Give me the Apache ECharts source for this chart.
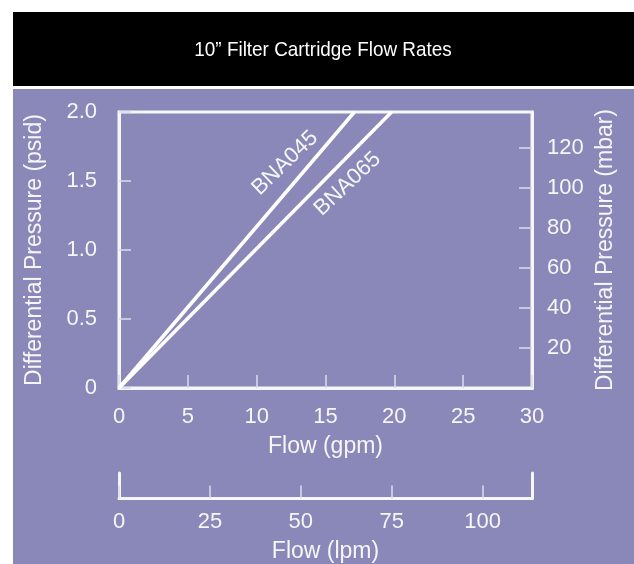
<!DOCTYPE html>
<html>
<head>
<meta charset="utf-8">
<script src="https://cdn.jsdelivr.net/npm/echarts@6/dist/echarts.min.js"></script>
<style>
html,body{margin:0;padding:0;background:#fff;}
#c{width:634px;height:564px;}
</style>
</head>
<body>
<div id="c"></div>
<script>
const titleText = "10\u201D Filter Cartridge Flow Rates";
const gpmTicks = [0, 5, 10, 15, 20, 25, 30];
const psidTicks = [0, 0.5, 1.0, 1.5, 2.0];
const mbarTicks = [20, 40, 60, 80, 100, 120];
const lpmTicks = [0, 25, 50, 75, 100];
const bna045 = [[0, 0], [17.1, 2.0]];
const bna065 = [[0, 0], [19.8, 2.0]];
const seriesNames = ["BNA045", "BNA065"];
const labelPos045 = [12.06, 1.63];
const labelPos065 = [16.6, 1.478];

const PSI_TO_MBAR = 68.9476;
const GPM_TO_LPM = 3.78541;

const FONT = "Liberation Sans, Arial, sans-serif";
const W = "#f6f6f6";
const TICK = "#dcdcec";

const chart = echarts.init(document.getElementById('c'));
const lbl = (extra) => Object.assign({color: W, fontSize: 22, fontFamily: FONT}, extra);

chart.setOption({
  animation: false,
  backgroundColor: '#ffffff',
  graphic: [
    {type: 'rect', z: -10, shape: {x: 13, y: 12, width: 621, height: 74}, style: {fill: '#000000'}},
    {type: 'rect', z: -10, shape: {x: 13, y: 89, width: 621, height: 475}, style: {fill: '#8988b8'}},
    {type: 'text', z: 10, x: 323, y: 50, scaleX: 0.9,
      style: {text: titleText, fill: '#ffffff', fontSize: 21, fontFamily: FONT, textAlign: 'center', textVerticalAlign: 'middle'}}
  ],
  grid: [
    {left: 119, top: 112, width: 413, height: 276, show: true, borderColor: W, borderWidth: 3, backgroundColor: 'transparent'},
    {left: 119, top: 473, width: 413, height: 27}
  ],
  xAxis: [
    {
      gridIndex: 0, type: 'value', min: gpmTicks[0], max: gpmTicks[gpmTicks.length - 1], interval: 5,
      axisLine: {lineStyle: {color: W, width: 3}},
      axisTick: {inside: true, length: 13, lineStyle: {color: TICK, width: 1.5}},
      splitLine: {show: false},
      axisLabel: lbl({margin: 18}),
      name: 'Flow (gpm)', nameLocation: 'middle', nameGap: 59,
      nameTextStyle: lbl({fontSize: 23, verticalAlign: 'middle'})
    },
    {
      gridIndex: 1, type: 'value', min: 0, max: gpmTicks[gpmTicks.length - 1] * GPM_TO_LPM, interval: 25,
      axisLine: {lineStyle: {color: W, width: 3}},
      axisTick: {inside: true, length: 13, lineStyle: {color: TICK, width: 1.5}},
      splitLine: {show: false},
      axisLabel: lbl({margin: 12, showMaxLabel: false, formatter: v => lpmTicks.includes(v) ? String(v) : ''}),
      name: 'Flow (lpm)', nameLocation: 'middle', nameGap: 53,
      nameTextStyle: lbl({fontSize: 23, verticalAlign: 'middle'})
    }
  ],
  yAxis: [
    {
      gridIndex: 0, type: 'value', min: 0, max: psidTicks[psidTicks.length - 1], interval: 0.5,
      axisLine: {lineStyle: {color: W, width: 3}},
      axisTick: {inside: true, length: 12, lineStyle: {color: TICK, width: 1.5}},
      splitLine: {show: false},
      axisLabel: lbl({margin: 22, formatter: v => v === 0 ? '0' : v.toFixed(1)}),
      name: 'Differential Pressure (psid)', nameLocation: 'middle', nameGap: 84, nameRotate: 90,
      nameTextStyle: lbl({fontSize: 23, verticalAlign: 'middle'})
    },
    {
      gridIndex: 0, type: 'value', position: 'right', min: 0, max: psidTicks[psidTicks.length - 1] * PSI_TO_MBAR, interval: 20,
      axisLine: {show: true, lineStyle: {color: W, width: 3}},
      axisTick: {inside: true, length: 13, lineStyle: {color: TICK, width: 1.5}},
      splitLine: {show: false},
      axisLabel: lbl({margin: 15, showMinLabel: false, showMaxLabel: false, formatter: v => mbarTicks.includes(v) ? String(v) : ''}),
      name: 'Differential Pressure (mbar)', nameLocation: 'middle', nameGap: 74, nameRotate: 90,
      nameTextStyle: lbl({fontSize: 23, verticalAlign: 'middle'})
    },
    {
      gridIndex: 1, type: 'value', position: 'left', min: 0, max: 1,
      axisLine: {show: true, lineStyle: {color: W, width: 3}},
      axisTick: {show: false}, axisLabel: {show: false}, splitLine: {show: false}
    },
    {
      gridIndex: 1, type: 'value', position: 'right', min: 0, max: 1,
      axisLine: {show: true, lineStyle: {color: W, width: 3}},
      axisTick: {show: false}, axisLabel: {show: false}, splitLine: {show: false}
    }
  ],
  series: [
    {
      name: seriesNames[0], type: 'line', xAxisIndex: 0, yAxisIndex: 0, data: bna045,
      showSymbol: false, lineStyle: {color: '#ffffff', width: 3.5}, z: 5,
      markPoint: {
        symbol: 'circle', symbolSize: 0,
        data: [{coord: labelPos045, value: seriesNames[0]}],
        label: lbl({formatter: seriesNames[0], rotate: 44, position: 'inside'})
      }
    },
    {
      name: seriesNames[1], type: 'line', xAxisIndex: 0, yAxisIndex: 0, data: bna065,
      showSymbol: false, lineStyle: {color: '#ffffff', width: 3.5}, z: 5,
      markPoint: {
        symbol: 'circle', symbolSize: 0,
        data: [{coord: labelPos065, value: seriesNames[1]}],
        label: lbl({formatter: seriesNames[1], rotate: 43, position: 'inside'})
      }
    }
  ]
});
</script>
</body>
</html>
